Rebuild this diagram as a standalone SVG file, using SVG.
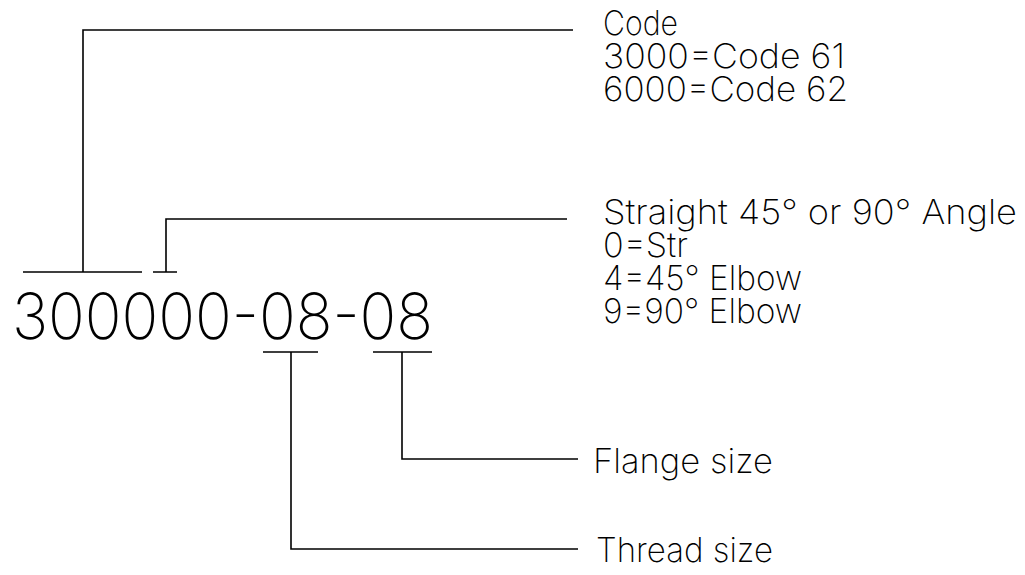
<svg xmlns="http://www.w3.org/2000/svg" width="1025" height="575" viewBox="0 0 1025 575">
<style>
.ln{fill:none;stroke:#000;stroke-width:1.6;stroke-linejoin:miter;stroke-linecap:butt}
.t{font-family:Inter,"DejaVu Sans",sans-serif;font-weight:200;font-size:34px;fill:#000}
.big{font-size:64px}
</style>
<rect width="1025" height="575" fill="#fff"/>
<g id="part-number">
<text class="t big" x="12" y="339" textLength="421" lengthAdjust="spacingAndGlyphs">300000-08-08</text>
</g>
<g id="code">
<text class="t" x="603" y="35" textLength="75" lengthAdjust="spacingAndGlyphs">Code</text>
<text class="t" x="603" y="68" textLength="242" lengthAdjust="spacingAndGlyphs">3000=Code 61</text>
<text class="t" x="603" y="101" textLength="245" lengthAdjust="spacingAndGlyphs">6000=Code 62</text>
</g>
<g id="angle">
<text class="t" x="603" y="224" textLength="414" lengthAdjust="spacingAndGlyphs">Straight 45° or 90° Angle</text>
<text class="t" x="603" y="257" textLength="85" lengthAdjust="spacingAndGlyphs">0=Str</text>
<text class="t" x="603" y="290" textLength="199" lengthAdjust="spacingAndGlyphs">4=45° Elbow</text>
<text class="t" x="603" y="323" textLength="199" lengthAdjust="spacingAndGlyphs">9=90° Elbow</text>
</g>
<g id="flange">
<text class="t" x="593" y="473" textLength="180" lengthAdjust="spacingAndGlyphs">Flange size</text>
</g>
<g id="thread">
<text class="t" x="596" y="562" textLength="177" lengthAdjust="spacingAndGlyphs">Thread size</text>
</g>
<g id="connectors">
<path class="ln" d="M23,272H142M83,272V30H573"/>
<path class="ln" d="M153,272H177M166,272V219H567"/>
<path class="ln" d="M263,352H318M291,352V549H578"/>
<path class="ln" d="M373,352H432M402,352V459H578"/>
</g>
</svg>
